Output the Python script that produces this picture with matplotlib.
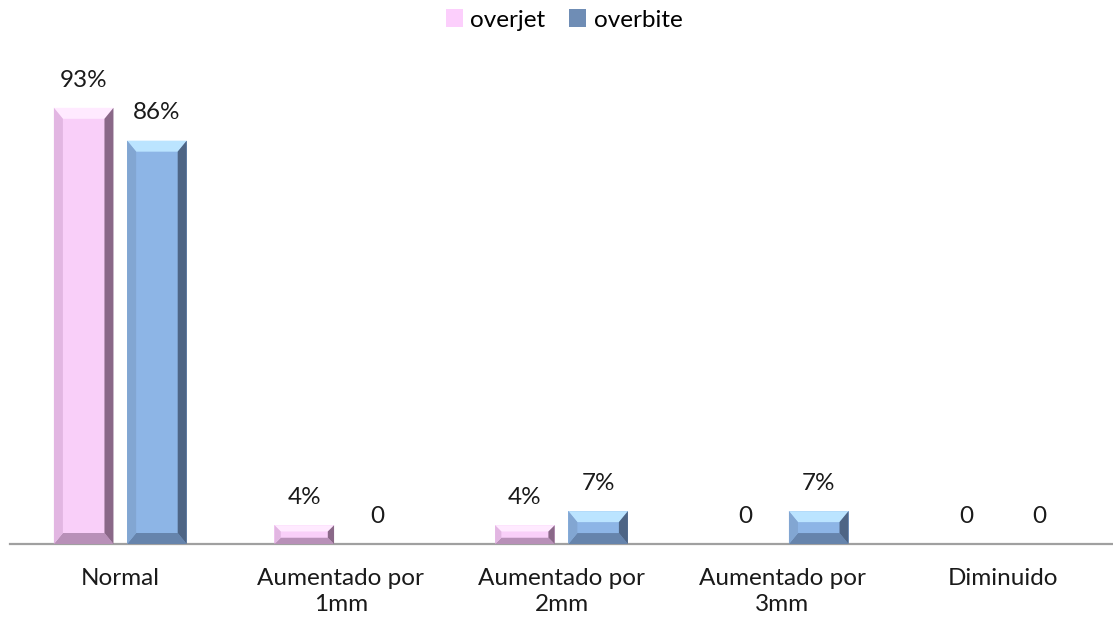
import matplotlib
matplotlib.use("Agg")
import matplotlib.pyplot as plt
from matplotlib.patches import Polygon, Patch
import numpy as np

categories = ["Normal", "Aumentado por\n1mm", "Aumentado por\n2mm", "Aumentado por\n3mm", "Diminuido"]
overjet = [93, 4, 4, 0, 0]
overbite = [86, 0, 7, 7, 0]
overjet_labels = ["93%", "4%", "4%", "0", "0"]
overbite_labels = ["86%", "0", "7%", "7%", "0"]

plt.rcParams['font.family'] = ['Lato', 'DejaVu Sans']

fig = plt.figure(figsize=(11.13, 6.23), dpi=100)
ax = fig.add_axes([10/1113, 1-544/623, 1-10/1113, 469/623])
ax.set_xlim(-0.5, 4.5)
ax.set_ylim(0, 100)

x = np.arange(len(categories))
w = 0.27
off = 0.166
FS = 17.5

styles = {
    'overjet': dict(face='#F9CFF9', top='#FFEAFF', left='#E2B6E2', right='#8A6888', bottom='#B890B8'),
    'overbite': dict(face='#8DB5E6', top='#BBE4FF', left='#82A6D2', right='#4E6585', bottom='#6684AC'),
}

fig.canvas.draw()
px_x = ax.transData.transform((1, 0))[0] - ax.transData.transform((0, 0))[0]
px_y = ax.transData.transform((0, 1))[1] - ax.transData.transform((0, 0))[1]

def bevel_bars(xs, vals, st):
    bars = ax.bar(xs, vals, width=w, color=st['face'], edgecolor='none', zorder=2)
    for b in bars:
        h = b.get_height()
        if h <= 0:
            continue
        x0, x1 = b.get_x(), b.get_x() + b.get_width()
        hp = h * px_y
        bpx = min(11.0, hp / 3.0)
        dx = min(bpx, 9.0) / px_x
        dy = bpx / px_y
        polys = [
            ([(x0, h), (x1, h), (x1 - dx, h - dy), (x0 + dx, h - dy)], st['top']),
            ([(x0, 0), (x1, 0), (x1 - dx, dy), (x0 + dx, dy)], st['bottom']),
            ([(x0, 0), (x0, h), (x0 + dx, h - dy), (x0 + dx, dy)], st['left']),
            ([(x1, 0), (x1, h), (x1 - dx, h - dy), (x1 - dx, dy)], st['right']),
        ]
        for pts, c in polys:
            ax.add_patch(Polygon(pts, closed=True, facecolor=c, edgecolor='none', zorder=3))
    return bars

bevel_bars(x - off, overjet, styles['overjet'])
bevel_bars(x + off, overbite, styles['overbite'])

for xi, v, lab in zip(x - off, overjet, overjet_labels):
    ax.annotate(lab, (xi, v), xytext=(0, 20), textcoords='offset points',
                ha='center', va='center', fontsize=FS, color='#1a1a1a')
for xi, v, lab in zip(x + off, overbite, overbite_labels):
    ax.annotate(lab, (xi, v), xytext=(0, 20), textcoords='offset points',
                ha='center', va='center', fontsize=FS, color='#1a1a1a')

for s in ['top', 'right', 'left']:
    ax.spines[s].set_visible(False)
ax.spines['bottom'].set_color('#A0A0A0')
ax.spines['bottom'].set_linewidth(1.6)
ax.set_yticks([])
ax.set_xticks(x)
ax.set_xticklabels(categories, fontsize=FS, color='#1a1a1a', linespacing=1.3)
ax.tick_params(axis='x', length=0, pad=17)

handles = [Patch(facecolor='#FCCFFC', edgecolor='none'),
           Patch(facecolor='#6F8DB5', edgecolor='none')]
fig.legend(handles, ['overjet', 'overbite'], loc='center', bbox_to_anchor=(564/1113, 1-20/623),
           ncol=2, frameon=False, fontsize=FS, handlelength=0.7, handleheight=0.7,
           handletextpad=0.3, columnspacing=1.0)

fig.savefig('out.png', dpi=100)
